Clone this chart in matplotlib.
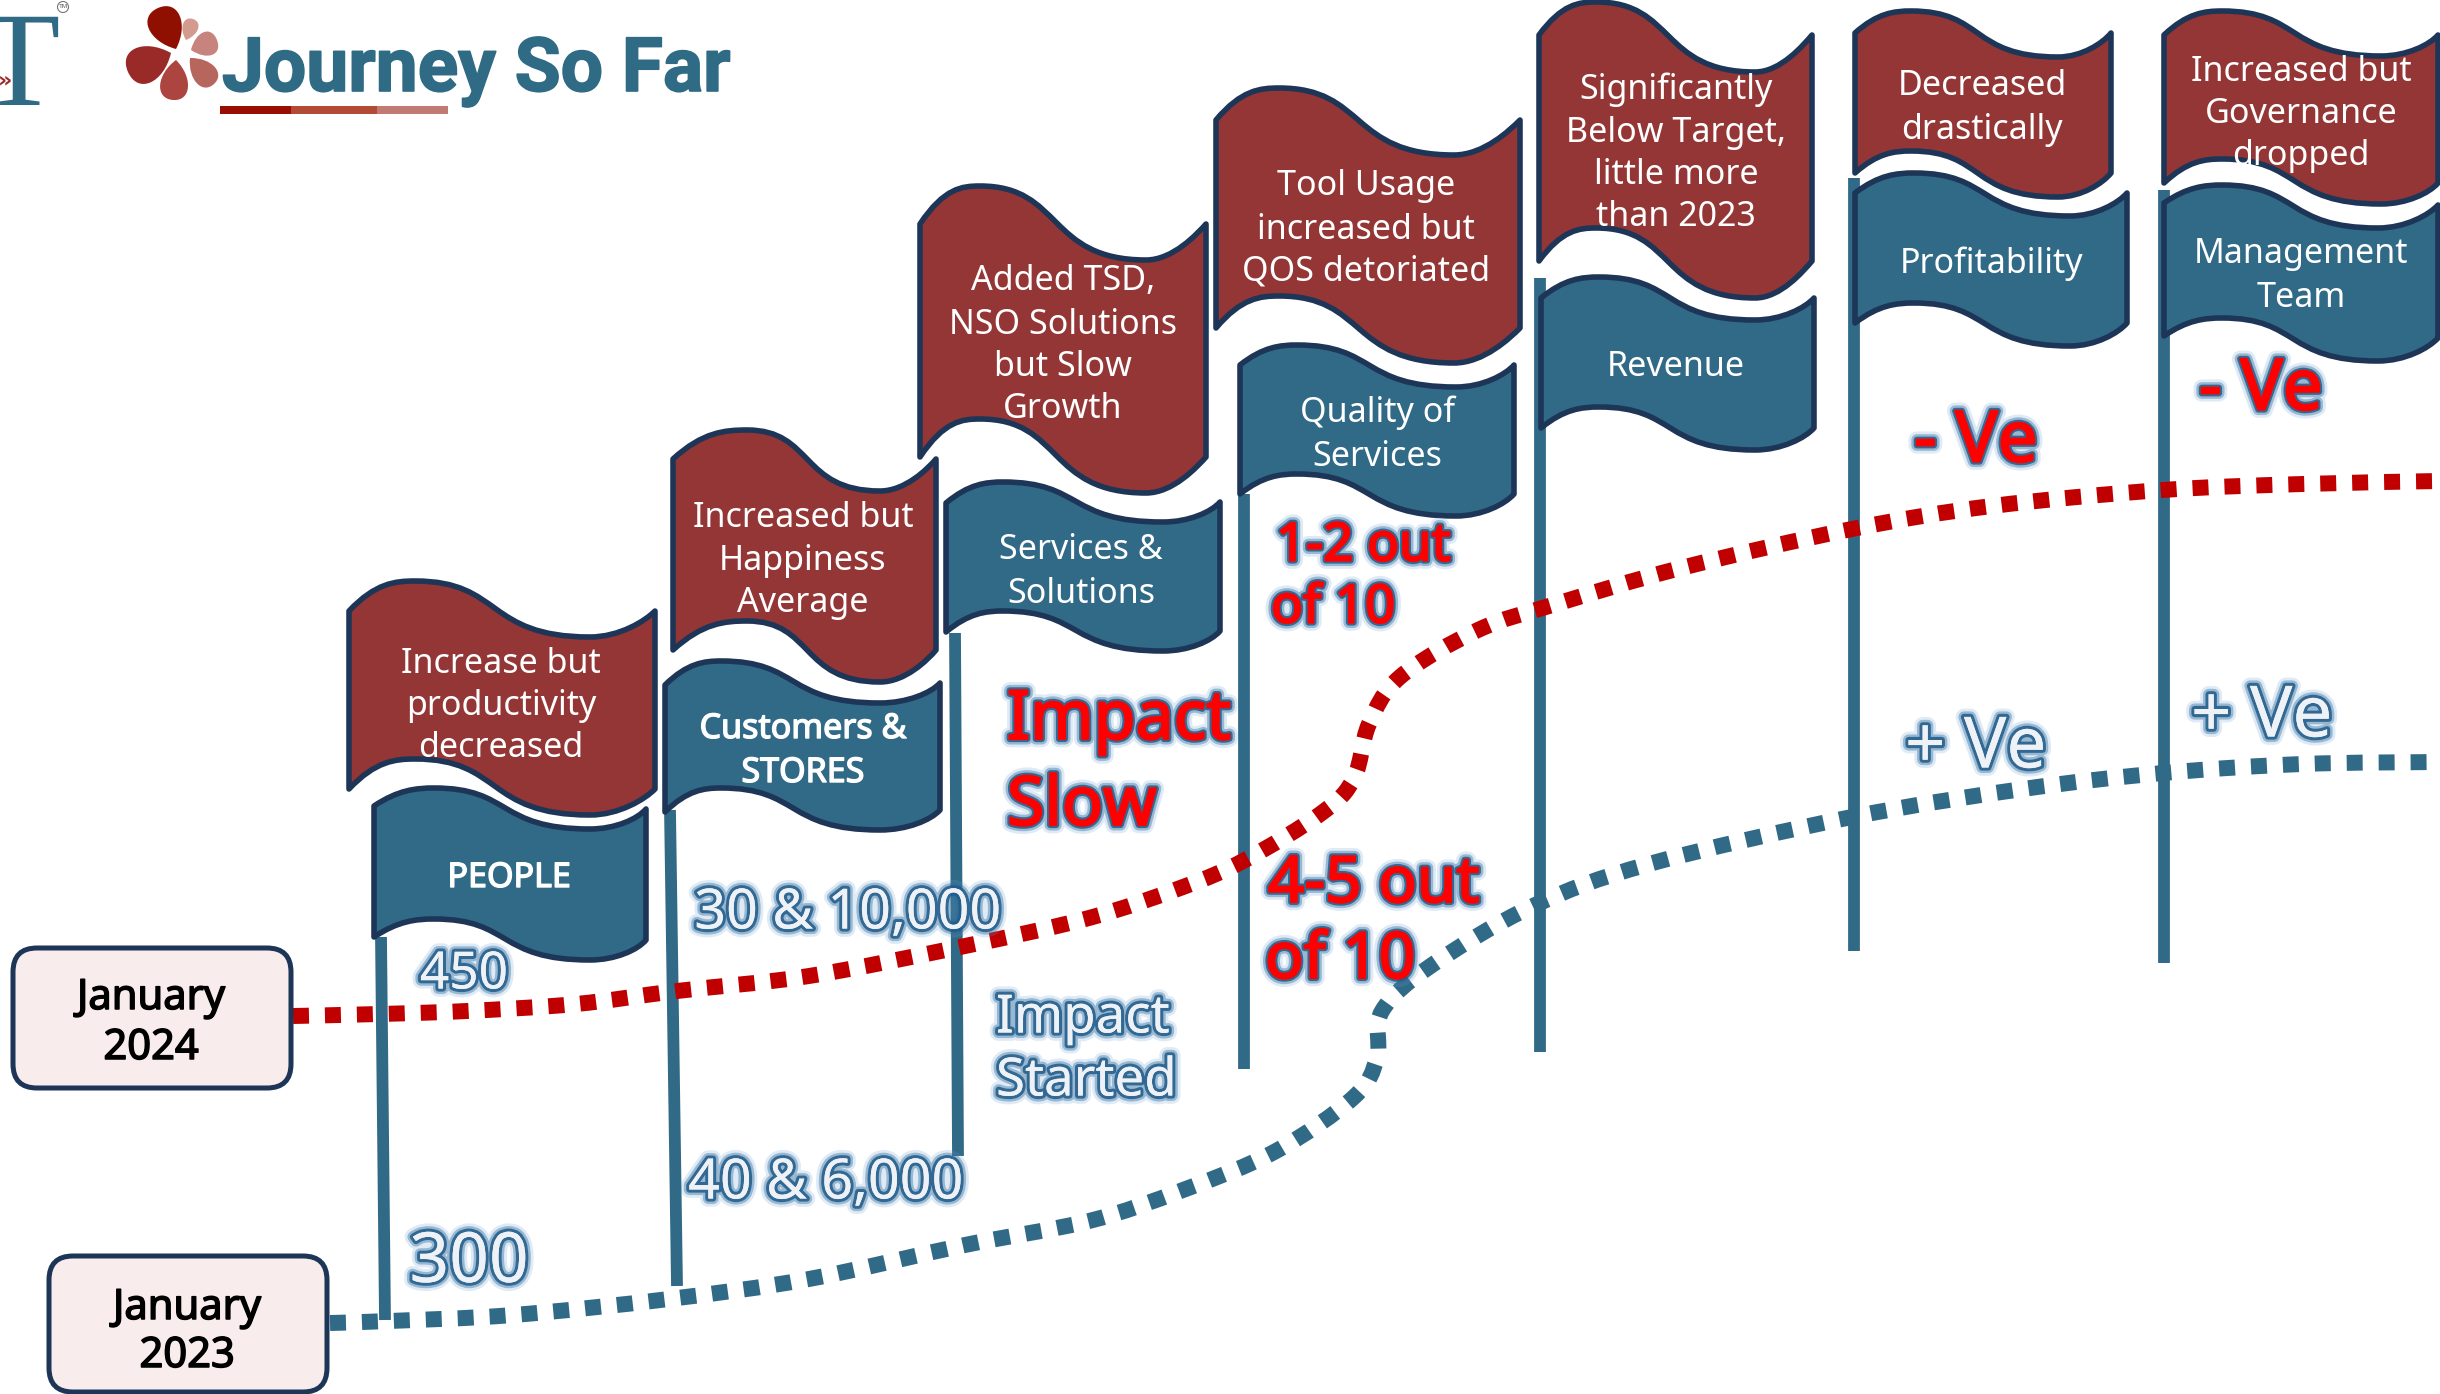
import matplotlib
matplotlib.use("Agg")
import matplotlib.pyplot as plt
import matplotlib.patheffects as pe
from matplotlib.path import Path
from matplotlib.patches import PathPatch, FancyBboxPatch, Rectangle, Circle

RED = "#933635"
BLUE = "#316A87"
EDGE = "#1D3557"
DOT_RED = "#C00000"
TITLE = "#2F6B84"
FONT = "Noto Sans"
TEXT_DY = 4  # centre anchoring sits a little high for this font

# dotted progress lines
jan2024_x = [293, 380, 467, 576, 677, 809, 965, 1089, 1183, 1245, 1323, 1354, 1369, 1400, 1478, 1556, 1681, 1852, 1992, 2163, 2303, 2440]
jan2024_y = [1016, 1014, 1011, 1004, 991, 976, 946, 918, 887, 860, 812, 778, 724, 677, 630, 604, 568, 529, 506, 490, 484, 481]
jan2023_x = [330, 389, 513, 669, 809, 965, 1089, 1183, 1276, 1354, 1377, 1382, 1432, 1533, 1649, 1852, 2023, 2163, 2303, 2440]
jan2023_y = [1323, 1321, 1315, 1299, 1279, 1245, 1221, 1190, 1151, 1097, 1058, 1011, 965, 906, 864, 817, 789, 773, 764, 762]

red_labels = [
    ["Increase but", "productivity", "decreased"],
    ["Increased but", "Happiness", "Average"],
    ["Added TSD,", "NSO Solutions", "but Slow", "Growth"],
    ["Tool Usage", "increased but", "QOS detoriated"],
    ["Significantly", "Below Target,", "little more", "than 2023"],
    ["Decreased", "drastically"],
    ["Increased but", "Governance", "dropped"],
]
blue_labels = [
    ["PEOPLE"],
    ["Customers &", "STORES"],
    ["Services &", "Solutions"],
    ["Quality of", "Services"],
    ["Revenue"],
    ["Profitability"],
    ["Management", "Team"],
]

# flag shapes: x0, x1, top left y, crest x, crest y, trough x, trough y, top right y, height
red_shapes = [
    (349, 655, 611, 415, 581, 590, 637, 611, 178),
    (673, 936, 459, 747, 430, 880, 491, 459, 191),
    (920, 1206, 224, 980, 186, 1146, 260, 224, 233),
    (1216, 1520, 120, 1279, 88, 1454, 155, 120, 208),
    (1539, 1812, 35, 1596, 2, 1755, 72, 35, 226),
    (1855, 2111, 33, 1911, 11, 2058, 57, 33, 140),
    (2164, 2438, 35, 2222, 11, 2381, 56, 35, 148),
]
blue_shapes = [
    (374, 646, 806, 434, 788, 590, 829, 809, 131),
    (665, 940, 685, 721, 661, 880, 703, 683, 127),
    (946, 1220, 503, 1003, 482, 1163, 522, 502, 129),
    (1240, 1514, 365, 1297, 345, 1456, 387, 365, 129),
    (1541, 1814, 298, 1599, 277, 1755, 320, 298, 130),
    (1855, 2127, 193, 1914, 173, 2070, 216, 193, 130),
    (2164, 2438, 203, 2222, 185, 2378, 228, 205, 133),
]
# text anchor of each flag: x, y of each line
red_text_x = [501, 803, 1063, 1366, 1676, 1982, 2301]
red_text_y = [[660, 702, 744], [514, 557, 599], [277, 321, 363, 405], [182, 226, 268], [86, 129, 171, 213], [82, 126], [68, 110, 152]]
blue_text_x = [509, 803, 1081, 1377, 1676, 1992, 2301]
blue_text_y = [[874], [725, 769], [546, 590], [409, 453], [363], [260], [250, 294]]

# poles: top x, top y, bottom x, bottom y
poles = [
    (381, 937, 385, 1320),
    (670, 810, 677, 1286),
    (955, 633, 958, 1156),
    (1244, 494, 1244, 1069),
    (1540, 278, 1540, 1052),
    (1854, 178, 1854, 951),
    (2164, 190, 2164, 963),
]

fig = plt.figure(figsize=(24.4, 13.94), dpi=100)
ax = fig.add_axes([0, 0, 1, 1])
ax.set_xlim(0, 2440)
ax.set_ylim(1394, 0)
ax.axis("off")


def flag_path(s):
    x0, x1, yl, xc, yc, xt, yt, yr, h = s
    mid = (xc + xt) / 2
    top = [(x0, yl), (x0 + (xc - x0) * 0.4, yc + 2), (xc - (xc - x0) * 0.3, yc), (xc, yc),
           (mid, yc), (mid - (xt - xc) * 0.1, yt), (xt, yt),
           (xt + (x1 - xt) * 0.45, yt), (x1 - (x1 - xt) * 0.15, yr + 10), (x1, yr)]
    bottom = [(x, y + h) for x, y in reversed(top)]
    verts = top + [(x1, yr + h)] + bottom[1:] + [(x0, yl)]
    codes = [Path.MOVETO] + [Path.CURVE4] * 9 + [Path.LINETO] + [Path.CURVE4] * 9 + [Path.CLOSEPOLY]
    return Path(verts, codes)


def smooth_path(xs, ys):
    # catmull-rom through the read points
    pts = list(zip(xs, ys))
    verts = [pts[0]]
    codes = [Path.MOVETO]
    for i in range(len(pts) - 1):
        p0 = pts[max(i - 1, 0)]
        p1 = pts[i]
        p2 = pts[i + 1]
        p3 = pts[min(i + 2, len(pts) - 1)]
        verts.append((p1[0] + (p2[0] - p0[0]) / 6, p1[1] + (p2[1] - p0[1]) / 6))
        verts.append((p2[0] - (p3[0] - p1[0]) / 6, p2[1] - (p3[1] - p1[1]) / 6))
        verts.append(p2)
        codes += [Path.CURVE4] * 3
    return Path(verts, codes)


def heavy(color, width=1.0):
    # no bold face for this family here, so thicken the glyphs
    return pe.withStroke(linewidth=width, foreground=color)


def glow(color, size, x, y, s, ha="left", bold=False):
    t = ax.text(x, y + TEXT_DY, s, color=color, fontsize=size, ha=ha, va="center", family=FONT, zorder=8)
    effects = [
        pe.withStroke(linewidth=12, foreground="#5B9BD5", alpha=0.2),
        pe.withStroke(linewidth=8, foreground="#2F6B9A", alpha=0.4),
        pe.withStroke(linewidth=4.5, foreground="#1F5C8A", alpha=0.85),
    ]
    if bold:
        effects.append(heavy(color, 1.6))
    effects.append(pe.Normal())
    t.set_path_effects(effects)


# poles
for xa, ya, xb, yb in poles:
    ax.plot([xa, xb], [ya, yb], color=BLUE, lw=8.5, solid_capstyle="butt", zorder=1)

# dotted lines
for xs, ys, col in [(jan2024_x, jan2024_y, DOT_RED), (jan2023_x, jan2023_y, BLUE)]:
    ax.add_patch(PathPatch(smooth_path(xs, ys), fill=False, edgecolor=col, lw=11.5,
                           linestyle=(0, (1.0, 1.0)), capstyle="butt", zorder=2))

# flags
for shapes, col in [(red_shapes, RED), (blue_shapes, BLUE)]:
    for s in shapes:
        ax.add_patch(PathPatch(flag_path(s), facecolor=col, edgecolor=EDGE, lw=4, joinstyle="round", zorder=3))

for xs, ys, labels in [(red_text_x, red_text_y, red_labels), (blue_text_x, blue_text_y, blue_labels)]:
    for x, yy, lines in zip(xs, ys, labels):
        for y, line in zip(yy, lines):
            t = ax.text(x, y + TEXT_DY, line, color="white", fontsize=24.5, ha="center", va="center", family=FONT, zorder=5)
            if line in ("PEOPLE", "Customers &", "STORES"):
                t.set_path_effects([heavy("white"), pe.Normal()])

# date boxes
for x0, y0, x1, y1, tx, ty, lines in [(13, 948, 291, 1088, 151, (994, 1044), ("January", "2024")),
                                      (49, 1256, 327, 1392, 187, (1304, 1352), ("January", "2023"))]:
    ax.add_patch(FancyBboxPatch((x0 + 22, y0 + 22), x1 - x0 - 44, y1 - y0 - 44, boxstyle="round,pad=22,rounding_size=24",
                                facecolor="#F8ECEC", edgecolor=EDGE, lw=3.6, zorder=4))
    for y, line in zip(ty, lines):
        t = ax.text(tx, y + TEXT_DY, line, color="black", fontsize=30, ha="center", va="center", family=FONT, zorder=5)
        t.set_path_effects([heavy("black", 1.1), pe.Normal()])

# callouts
LIGHT = "#EEF1F5"
glow(LIGHT, 37, 464, 971, "450", ha="center")
glow(LIGHT, 50, 469, 1260, "300", ha="center")
glow(LIGHT, 40, 848, 910, "30 & 10,000", ha="center")
glow(LIGHT, 40, 826, 1180, "40 & 6,000", ha="center")
glow(LIGHT, 38, 996, 1015, "Impact")
glow(LIGHT, 38, 996, 1078, "Started")
glow("#FF0000", 49, 1007, 717, "Impact", bold=True)
glow("#FF0000", 49, 1007, 803, "Slow", bold=True)
glow("#FF0000", 38, 1276, 543, "1-2 out", bold=True)
glow("#FF0000", 38, 1271, 605, "of 10", bold=True)
glow("#FF0000", 46, 1268, 881, "4-5 out", bold=True)
glow("#FF0000", 46, 1265, 957, "of 10", bold=True)
glow("#FF0000", 51, 1914, 439, "- Ve", bold=True)
glow("#FF0000", 51, 2199, 387, "- Ve", bold=True)
glow(LIGHT, 51, 1905, 745, "+ Ve")
glow(LIGHT, 51, 2191, 714, "+ Ve")

# title and underline
t = ax.text(222, 91, "Journey So Far", color=TITLE, fontsize=54, family="Roboto", weight="bold", ha="left", va="baseline", zorder=5)
t.set_path_effects([heavy(TITLE, 1.2), pe.Normal()])
for x0, x1, col in [(220, 291, "#970E03"), (291, 377, "#B34A36"), (377, 448, "#C07B73")]:
    ax.add_patch(Rectangle((x0, 106), x1 - x0, 8, facecolor=col, edgecolor="none", zorder=5))

# logo petals: tip, far end, width, colour
petals = [
    ((176, 49), (158, 8), 36, "#8F1000"),
    ((186, 40), (193, 19), 17, "#D39A90"),
    ((191, 50), (217, 40), 26, "#C7837E"),
    ((190, 58), (214, 84), 26, "#B7665E"),
    ((176, 60), (173, 100), 30, "#AC4540"),
    ((171, 53), (128, 72), 40, "#9A2A28"),
]
for (tx, ty), (fx, fy), w, col in petals:
    dx, dy = fx - tx, fy - ty
    ln = (dx * dx + dy * dy) ** 0.5
    nx, ny = -dy / ln * w * 0.62, dx / ln * w * 0.62
    verts = [(tx, ty), (tx + dx * 0.4 + nx, ty + dy * 0.4 + ny), (fx + nx, fy + ny), (fx, fy),
             (fx - nx, fy - ny), (tx + dx * 0.4 - nx, ty + dy * 0.4 - ny), (tx, ty)]
    ax.add_patch(PathPatch(Path(verts, [Path.MOVETO] + [Path.CURVE4] * 6), facecolor=col, edgecolor="none", zorder=5))

# company mark, cut by the left edge
ax.text(19, 105, "T", color=TITLE, fontsize=97, family="Liberation Serif", ha="center", va="baseline", zorder=5)
ax.text(5, 80, "»", color="#9A2A28", fontsize=16, family="DejaVu Sans", weight="bold", ha="center", va="center", zorder=6)
ax.add_patch(Circle((63, 7), 5.5, facecolor="white", edgecolor="#777777", lw=0.8, zorder=6))
ax.text(63, 7, "TM", color="#555555", fontsize=4.5, ha="center", va="center", family="Liberation Sans", zorder=7)

fig.savefig("out.png", dpi=100)
